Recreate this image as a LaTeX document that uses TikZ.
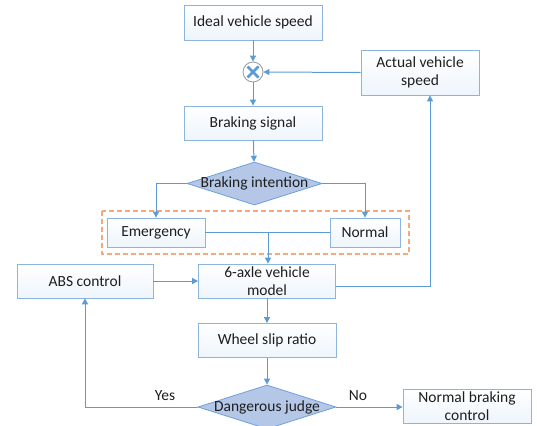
\documentclass[tikz,border=0pt]{standalone}
\usepackage{fontspec}
\setmainfont{Carlito}
\usetikzlibrary{arrows.meta,shapes.geometric,calc}
\definecolor{lineblue}{RGB}{91,155,213}
\definecolor{boxedge}{RGB}{140,180,220}
\definecolor{boxfill}{RGB}{238,245,252}
\definecolor{diafill}{RGB}{180,199,231}
\definecolor{diaedge}{RGB}{110,160,215}
\definecolor{dashorange}{RGB}{244,170,120}
\definecolor{txt}{RGB}{30,30,30}
\tikzset{
  fnt/.style={font=\fontsize{15.5}{17.5}\selectfont, text=txt},
  blk/.style={fnt, draw=boxedge, line width=0.8pt, top color=white, bottom color=boxfill, minimum height=34pt, align=center, inner sep=1pt},
  dia/.style={fnt, diamond, draw=diaedge, fill=diafill, line width=0.8pt, aspect=3.1, inner sep=0pt},
  conn/.style={draw=lineblue, line width=1pt},
  arr/.style={conn, -{Triangle[width=6pt,length=6pt]}},
  lbl/.style={fnt}
}
\begin{document}
\begin{tikzpicture}[x=1pt,y=-1pt]
\useasboundingbox (0,0) rectangle (537,425);
\begin{scope}
\clip (0,0) rectangle (537,425);
% boxes
\node[blk, minimum width=138pt, minimum height=35pt] (ideal) at (253,22.5) {Ideal vehicle speed};
\node[draw=gray!80, line width=0.8pt, circle, minimum size=20pt, inner sep=0pt, fill=white] (sum) at (253,72) {};
\draw[lineblue, line width=2.6pt] ($(sum.center)+(-5.5,-5.5)$) -- ($(sum.center)+(5.5,5.5)$);
\draw[lineblue, line width=2.6pt] ($(sum.center)+(-5.5,5.5)$) -- ($(sum.center)+(5.5,-5.5)$);
\node[blk, minimum width=118pt, minimum height=45pt] (actual) at (420,72.5) {Actual vehicle\\speed};
\node[blk, minimum width=138pt, minimum height=34pt] (brsig) at (253,123) {Braking signal};
\node[dia, minimum width=135pt, minimum height=43pt] (intent) at (254.5,183.5) {};
\node[fnt] at (intent.center) {Braking intention};
\draw[dashorange, dashed, line width=1.2pt, dash pattern=on 5pt off 3pt] (102,211) rectangle (409,254);
\node[blk, minimum width=98pt, minimum height=29pt] (emerg) at (156,232.5) {Emergency};
\node[blk, minimum width=70pt, minimum height=29pt] (normal) at (365,232.5) {Normal};
\coordinate (mid) at (268,232.5);
\node[blk, minimum width=137pt, minimum height=34pt] (model) at (267,281) {6-axle vehicle\\model};
\node[blk, minimum width=136pt, minimum height=34pt] (abs) at (85,281) {ABS control};
\node[blk, minimum width=138pt, minimum height=34pt] (slip) at (267,340.5) {Wheel slip ratio};
\node[dia, minimum width=138pt, minimum height=44pt] (danger) at (267,407) {};
\node[fnt] at (danger.center) {Dangerous judge};
\node[blk, minimum width=128pt, minimum height=34pt] (nbc) at (467,406) {Normal braking\\control};
\end{scope}
% connectors
\draw[arr] (ideal) -- (sum);
\draw[arr] (actual.west) -- (sum.east);
\draw[arr] (sum) -- (brsig);
\draw[arr] (brsig) -- (intent);
\draw[arr] (intent.west) -| (emerg.north);
\draw[arr] (intent.east) -| (normal.north);
\draw[conn] (emerg.east) -- (normal.west);
\draw[arr] (mid) -- (mid |- model.north);
\draw[arr] (abs.east) -- (abs.east -| model.west);
\coordinate (upin) at ($(actual.south)+(10,0)$);
\draw[arr] ($(model.east)+(0,5)$) -| (upin);
\draw[arr] (model) -- (slip);
\draw[arr] (slip) -- (danger);
\draw[arr] (danger.west) -| (abs.south);
\draw[arr] (danger.east) -- (nbc.west |- danger.east);
\node[lbl] (yes) at (165,396) {Yes};
\node[lbl] (no) at (358,396) {No};
\end{tikzpicture}
\end{document}
